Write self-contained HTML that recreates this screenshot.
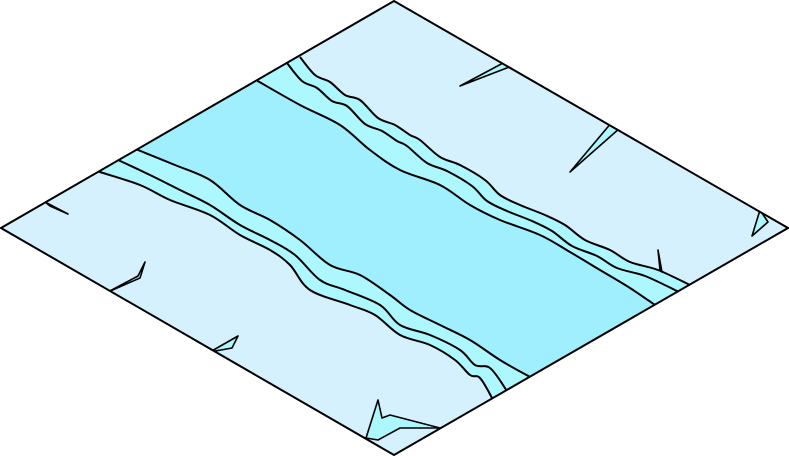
<!DOCTYPE html>
<html><head><meta charset="utf-8"><style>html,body{margin:0;padding:0;background:#fff;}svg{display:block}</style></head>
<body>
<svg id="s" width="789" height="456" viewBox="0 0 789 456">
<defs><clipPath id="d"><polygon points="394,1 788,228 394,455 1,228"/></clipPath></defs>
<polygon points="394,1 788,228 394,455 1,228" fill="#d6f1fe"/>
<g id="g" clip-path="url(#d)" stroke="#000" stroke-width="2" fill="none" stroke-linejoin="round">
<path id="bank" fill="#adf7fe" stroke="none"/>
<path id="water" fill="#a0effe" stroke="none"/>
<path id="l1"/>
<path id="l2"/>
<path id="l3"/>
<path id="l4"/>
<path id="l5"/>
<path id="l6"/>
<g fill="#adf7fe" stroke-width="1.6">
<polygon points="460,86 505,62 512,66"/>
<polygon points="570,172 612,122 620,128"/>
<polygon points="660,270 658,250 662,272"/>
<polygon points="752,236 760,210 768,222"/>
<polygon points="45,202 68,214 50,206"/>
<polygon points="108,292 140,278 145,262 138,276"/>
<polygon points="210,352 238,336 232,348"/>
<polygon points="366,438 378,400 382,418 390,415 440,428 400,428 378,440"/>
</g>
</g>
<polygon points="394,1 788,228 394,455 1,228" fill="none" stroke="#000" stroke-width="2"/>
</svg>
<script>
var L1=[[300,57],[315,75],[330,82],[345,95],[360,100],[378,118],[395,125],[410,135],[420,140],[440,157],[460,165],[485,180],[500,195],[520,205],[545,215],[565,225],[585,240],[610,250],[630,262],[658,270],[690,285],[700,290]];
var L2=L1.map(function(p){return [p[0]-13,p[1]+6];});
var L3=[[256,80],[300,105],[340,125],[370,150],[400,170],[440,185],[470,205],[500,220],[540,235],[570,252],[600,270],[630,288],[655,305],[665,312]];
var L4=[[128,146],[138,150],[175,165],[210,180],[240,205],[270,220],[300,240],[330,265],[360,275],[390,295],[410,310],[440,325],[470,340],[500,360],[530,377]];
var L5=[[108,156],[118,160],[150,175],[180,190],[210,205],[240,225],[270,240],[295,255],[320,280],[345,290],[380,305],[400,325],[430,335],[460,350],[475,365],[490,368],[505,388],[510,398]];
var L6=[[90,168],[100,172],[140,185],[170,200],[210,215],[240,235],[270,250],[290,265],[310,290],[350,305],[375,315],[400,335],[430,345],[455,360],[470,375],[480,378],[492,398],[496,408]];
function cr(p,move){var s=move?'M'+p[0][0]+','+p[0][1]:'L'+p[0][0]+','+p[0][1];
for(var i=0;i<p.length-1;i++){var a=p[Math.max(i-1,0)],b=p[i],c=p[i+1],d=p[Math.min(i+2,p.length-1)];
s+='C'+(b[0]+(c[0]-a[0])/6)+','+(b[1]+(c[1]-a[1])/6)+' '+(c[0]-(d[0]-b[0])/6)+','+(c[1]-(d[1]-b[1])/6)+' '+c[0]+','+c[1];}return s;}
function $(i){return document.getElementById(i);}
$('l1').setAttribute('d',cr(L1,1));$('l2').setAttribute('d',cr(L2,1));
$('l3').setAttribute('d',cr(L3,1));$('l4').setAttribute('d',cr(L4,1));
$('l5').setAttribute('d',cr(L5,1));$('l6').setAttribute('d',cr(L6,1));
$('water').setAttribute('d',cr(L3,1)+'L560,420'+cr(L4.slice().reverse(),0)+'L120,130Z');
$('bank').setAttribute('d',cr(L1,1)+'L720,300L520,420'+cr(L6.slice().reverse(),0)+'L70,160L290,40Z');
</script>
</body></html>
